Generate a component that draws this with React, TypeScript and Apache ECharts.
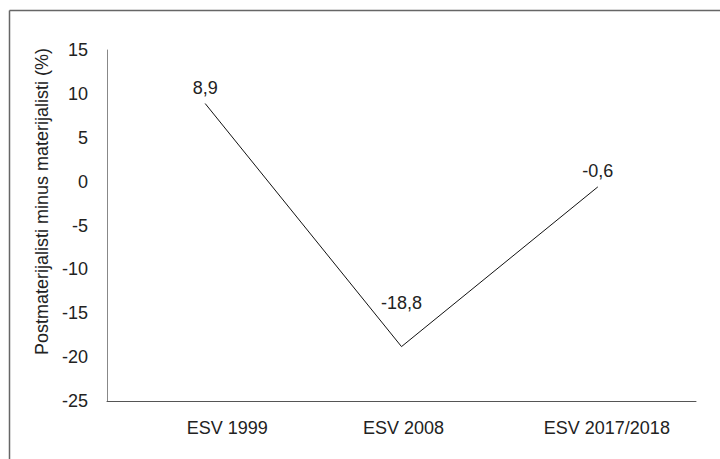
import React, { useEffect, useRef } from "react";
import * as echarts from "echarts";

const categories = ["ESV 1999", "ESV 2008", "ESV 2017/2018"];
const values = [8.9, -18.8, -0.6];
const yTicks = { min: -25, max: 15, interval: 5 };
const yName = "Postmaterijalisti minus materijalisti (%)";

export default function App() {
  const ref = useRef<HTMLDivElement>(null);
  useEffect(() => {
    if (!ref.current) return;
    const chart = echarts.init(ref.current, null, { renderer: "svg" });
    const pads = [44, 4, 18];
    chart.setOption({
      animation: false,
      textStyle: { fontFamily: "Liberation Sans, Arial, sans-serif" },
      graphic: [
        { type: "line", shape: { x1: 9.5, y1: 10.5, x2: 720, y2: 10.5 }, style: { stroke: "#666", lineWidth: 1.5 } },
        { type: "line", shape: { x1: 9.5, y1: 10.5, x2: 9.5, y2: 459 }, style: { stroke: "#666", lineWidth: 1.5 } },
      ],
      grid: { left: 107, right: 24, top: 50, bottom: 58 },
      xAxis: {
        type: "category",
        data: categories,
        boundaryGap: true,
        axisLine: { onZero: false, lineStyle: { color: "#555", width: 1 } },
        axisTick: { show: false },
        axisLabel: {
          margin: 18,
          formatter: (v: string, i: number) => `{c${i}|${v}}`,
          rich: {
            c0: { fontSize: 18, color: "#222", padding: [0, 0, 0, pads[0]] },
            c1: { fontSize: 18, color: "#222", padding: [0, 0, 0, pads[1]] },
            c2: { fontSize: 18, color: "#222", padding: [0, 0, 0, pads[2]] },
          },
        },
      },
      yAxis: {
        type: "value",
        min: yTicks.min,
        max: yTicks.max,
        interval: yTicks.interval,
        name: yName,
        nameLocation: "middle",
        nameGap: 54,
        nameTextStyle: { fontSize: 18, color: "#222", padding: [0, 0, 0, 48] },
        axisLine: { show: true, lineStyle: { color: "#888", width: 1 } },
        axisTick: { show: false },
        splitLine: { show: false },
        axisLabel: { fontSize: 18, color: "#222", margin: 19 },
      },
      series: [
        {
          type: "line",
          data: values.map((v, i) => ({
            value: v,
            label: i === 1 ? { offset: [0, -28] } : undefined,
          })),
          symbol: "circle",
          symbolSize: 1,
          showSymbol: true,
          itemStyle: { color: "rgba(0,0,0,0)" },
          lineStyle: { color: "#111", width: 1 },
          label: {
            show: true,
            position: "top",
            distance: 6,
            fontSize: 18,
            color: "#222",
            formatter: (p: any) => String(p.value).replace(".", ","),
          },
        },
      ],
    });
    return () => chart.dispose();
  }, []);
  return <div ref={ref} style={{ width: 720, height: 459, position: "absolute", left: 0, top: 0 }} />;
}
